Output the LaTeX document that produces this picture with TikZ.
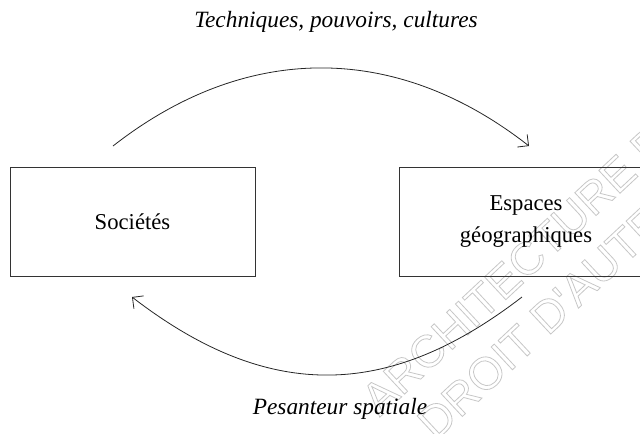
\documentclass[tikz,border=0pt]{standalone}
\usepackage{fontspec}
\setmainfont{Liberation Serif}
\newfontfamily\wmfont{Liberation Sans}
\usetikzlibrary{arrows.meta}
\newcommand{\hollowtext}[1]{\special{pdf:literal direct 1 Tr 0.6 w}#1\special{pdf:literal direct 0 Tr}}
\begin{document}
\begin{tikzpicture}[x=0.75pt,y=-0.75pt,
  box/.style={draw=black!80,line width=0.7pt,minimum width=245*0.75pt,minimum height=109*0.75pt,inner sep=0pt},
  boxtext/.style={font=\fontsize{17}{24}\selectfont,align=center},
  lab/.style={font=\fontsize{17.5}{22}\selectfont\itshape},
  flow/.style={draw=black!85,line width=0.6pt,-{Straight Barb[length=6pt,width=12pt,line width=0.6pt]}},
  wm/.style={font=\wmfont\fontsize{34}{34}\selectfont,text=black!22,rotate=43,anchor=south west,inner sep=0pt}]
\useasboundingbox (0,0) rectangle (640,433);
\begin{scope}
\clip (0,0) rectangle (640,433);
\node[wm] (wm1) at (380,418) {\hollowtext{ARCHITECTURE DE LA}};
\node[wm] (wm2) at (436,442) {\hollowtext{DROIT D'AUTEUR}};
\node[box] (soc) at (132.5,221.5) {};
\node[boxtext] (soct) at (soc.center) {Sociétés};
\node[box] (esp) at (521.5,221.5) {};
\node[boxtext] (espt) at (526,221.5) {Espaces\\géographiques};
\end{scope}
\coordinate (t1) at (113,146);
\coordinate (t2) at (529,146);
\coordinate (b1) at (522,297);
\coordinate (b2) at (132,297);
\draw[flow] (t1) .. controls (246,42) and (396,42) .. (t2);
\draw[flow] (b1) .. controls (387,401) and (267,401) .. (b2);
\node[lab] (top) at (336,22) {Techniques, pouvoirs, cultures};
\node[lab] (bot) at (340,409) {Pesanteur spatiale};
\end{tikzpicture}
\end{document}
